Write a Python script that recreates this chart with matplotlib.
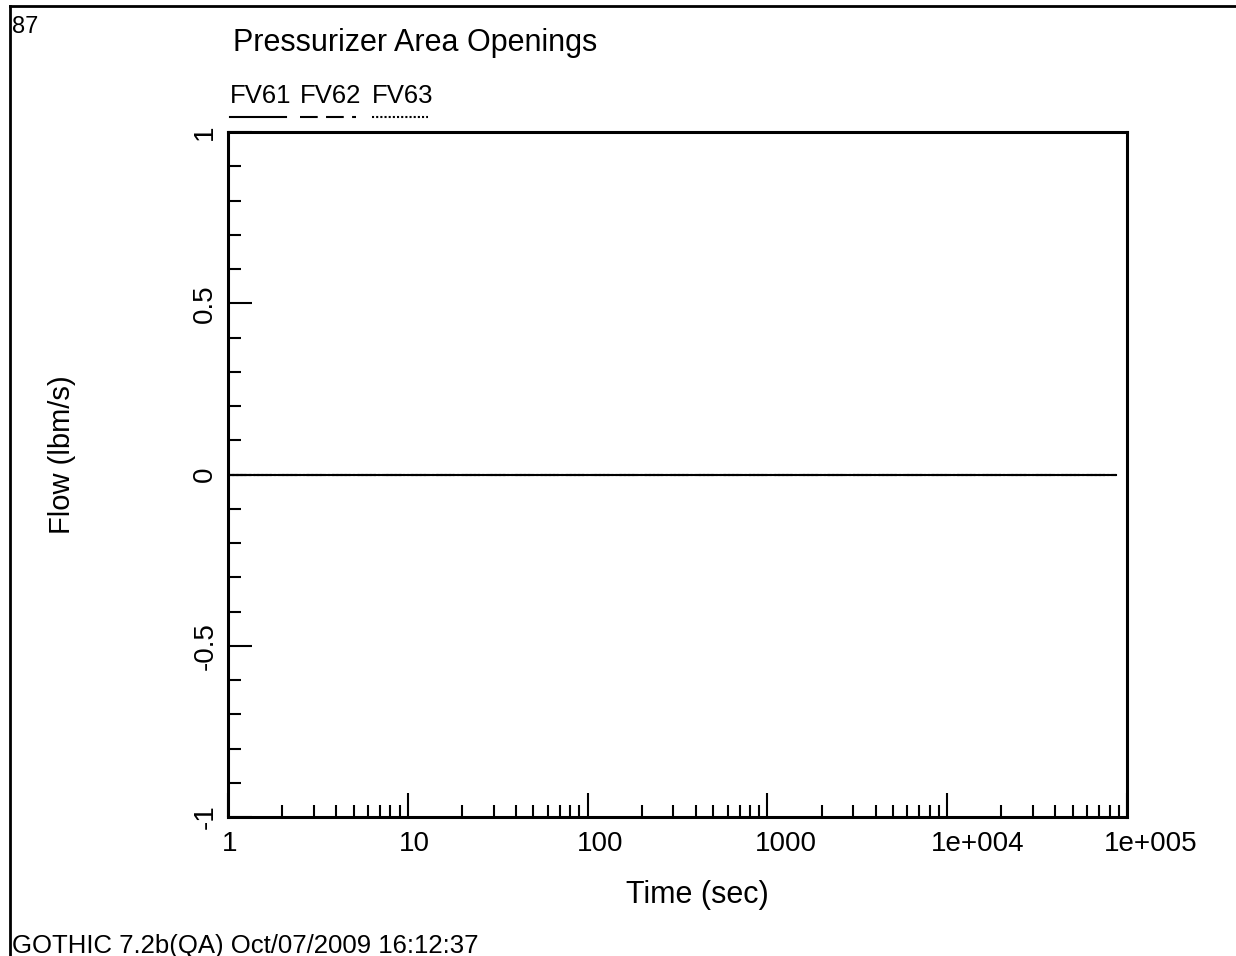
import matplotlib
matplotlib.use("Agg")
import matplotlib.pyplot as plt
import numpy as np
from matplotlib.lines import Line2D
from matplotlib.ticker import FixedLocator, NullFormatter
from matplotlib.transforms import ScaledTranslation

plt.rcParams['font.family'] = ['Liberation Sans', 'DejaVu Sans']

# --- data -------------------------------------------------------------
series_names = ["FV61", "FV62", "FV63"]
series_styles = ["-", (0, (8.5, 4)), (0, (1, 1))]
time_sec = [1.0, 86400.0]
flow_fv61 = [0.0, 0.0]
flow_fv62 = [0.0, 0.0]
flow_fv63 = [0.0, 0.0]
flows = [flow_fv61, flow_fv62, flow_fv63]

x_ticks = [1, 10, 100, 1000, 1e4, 1e5]
x_tick_labels = ["1", "10", "100", "1000", "1e+004", "1e+005"]
y_ticks = [-1, -0.5, 0, 0.5, 1]
y_tick_labels = ["-1", "-0.5", "0", "0.5", "1"]

# horizontal nudge of each x tick label (pixels)
x_label_shift_px = [2, 7, 13, 18, 30, 24]

W, H = 1236, 956
fig = plt.figure(figsize=(W / 100, H / 100), dpi=100)
ax = fig.add_axes([228 / W, 1 - 817 / H, (1127 - 228) / W, (817 - 132) / H])

for name, style, flow in zip(series_names, series_styles, flows):
    ax.plot(time_sec, flow, linestyle=style, color="black", lw=1.5)

ax.set_xscale("log")
ax.set_xlim(1, 1e5)
ax.set_ylim(-1, 1)

ax.xaxis.set_major_locator(FixedLocator(x_ticks))
ax.set_xticklabels(x_tick_labels)
minor_x = [m * 10 ** d for d in range(5) for m in range(2, 10)]
ax.xaxis.set_minor_locator(FixedLocator(minor_x))
ax.xaxis.set_minor_formatter(NullFormatter())

ax.yaxis.set_major_locator(FixedLocator(y_ticks))
ax.set_yticklabels(y_tick_labels)
ax.yaxis.set_minor_locator(FixedLocator(np.round(np.arange(-1, 1.01, 0.1), 2)))

for sp in ax.spines.values():
    sp.set_linewidth(2.2)

ax.tick_params(axis="both", which="major", direction="in", length=17,
               width=1.5, labelsize=20, top=False, right=False)
ax.tick_params(axis="both", which="minor", direction="in", length=9,
               width=1.5, top=False, right=False)
ax.tick_params(axis="x", which="major", pad=10)
ax.tick_params(axis="y", which="major", pad=7)

for lab in ax.get_yticklabels():
    lab.set_rotation(90)
    lab.set_va("center")

for lab, dx in zip(ax.get_xticklabels(), x_label_shift_px):
    lab.set_transform(lab.get_transform() + ScaledTranslation(dx / 100, 0, fig.dpi_scale_trans))

ax.set_xlabel("Time (sec)", fontsize=22)
ax.xaxis.set_label_coords((697 - 228) / 899, (817 - 895) / 685)
ax.xaxis.label.set_va("center")
ax.set_ylabel("Flow (lbm/s)", fontsize=21)
ax.yaxis.set_label_coords((62 - 228) / 899, (817 - 455) / 685)
ax.yaxis.label.set_va("center")

# title, page number and footer
fig.text(233 / W, 1 - 43 / H, "Pressurizer Area Openings", fontsize=22,
         ha="left", va="center")
fig.text(12 / W, 1 - 27 / H, "87", fontsize=17, ha="left", va="center")
fig.text(12 / W, 1 - 946 / H, "GOTHIC 7.2b(QA) Oct/07/2009 16:12:37",
         fontsize=18.5, ha="left", va="center")

# legend: names above short line samples
leg_x = [230, 300, 372]
for x0, name, style in zip(leg_x, series_names, series_styles):
    fig.text(x0 / W, 1 - 96 / H, name, fontsize=18.5, ha="left", va="center")
    fig.add_artist(Line2D([x0 / W, (x0 + 56) / W], [1 - 117 / H, 1 - 117 / H],
                          color="black", lw=1.5, linestyle=style))

# page frame (top and left edges)
fig.add_artist(Line2D([10 / W, 1.0], [1 - 6 / H, 1 - 6 / H], color="black", lw=2))
fig.add_artist(Line2D([10 / W, 10 / W], [0, 1 - 6 / H], color="black", lw=2))

fig.savefig("out.png", dpi=100, facecolor="white")
